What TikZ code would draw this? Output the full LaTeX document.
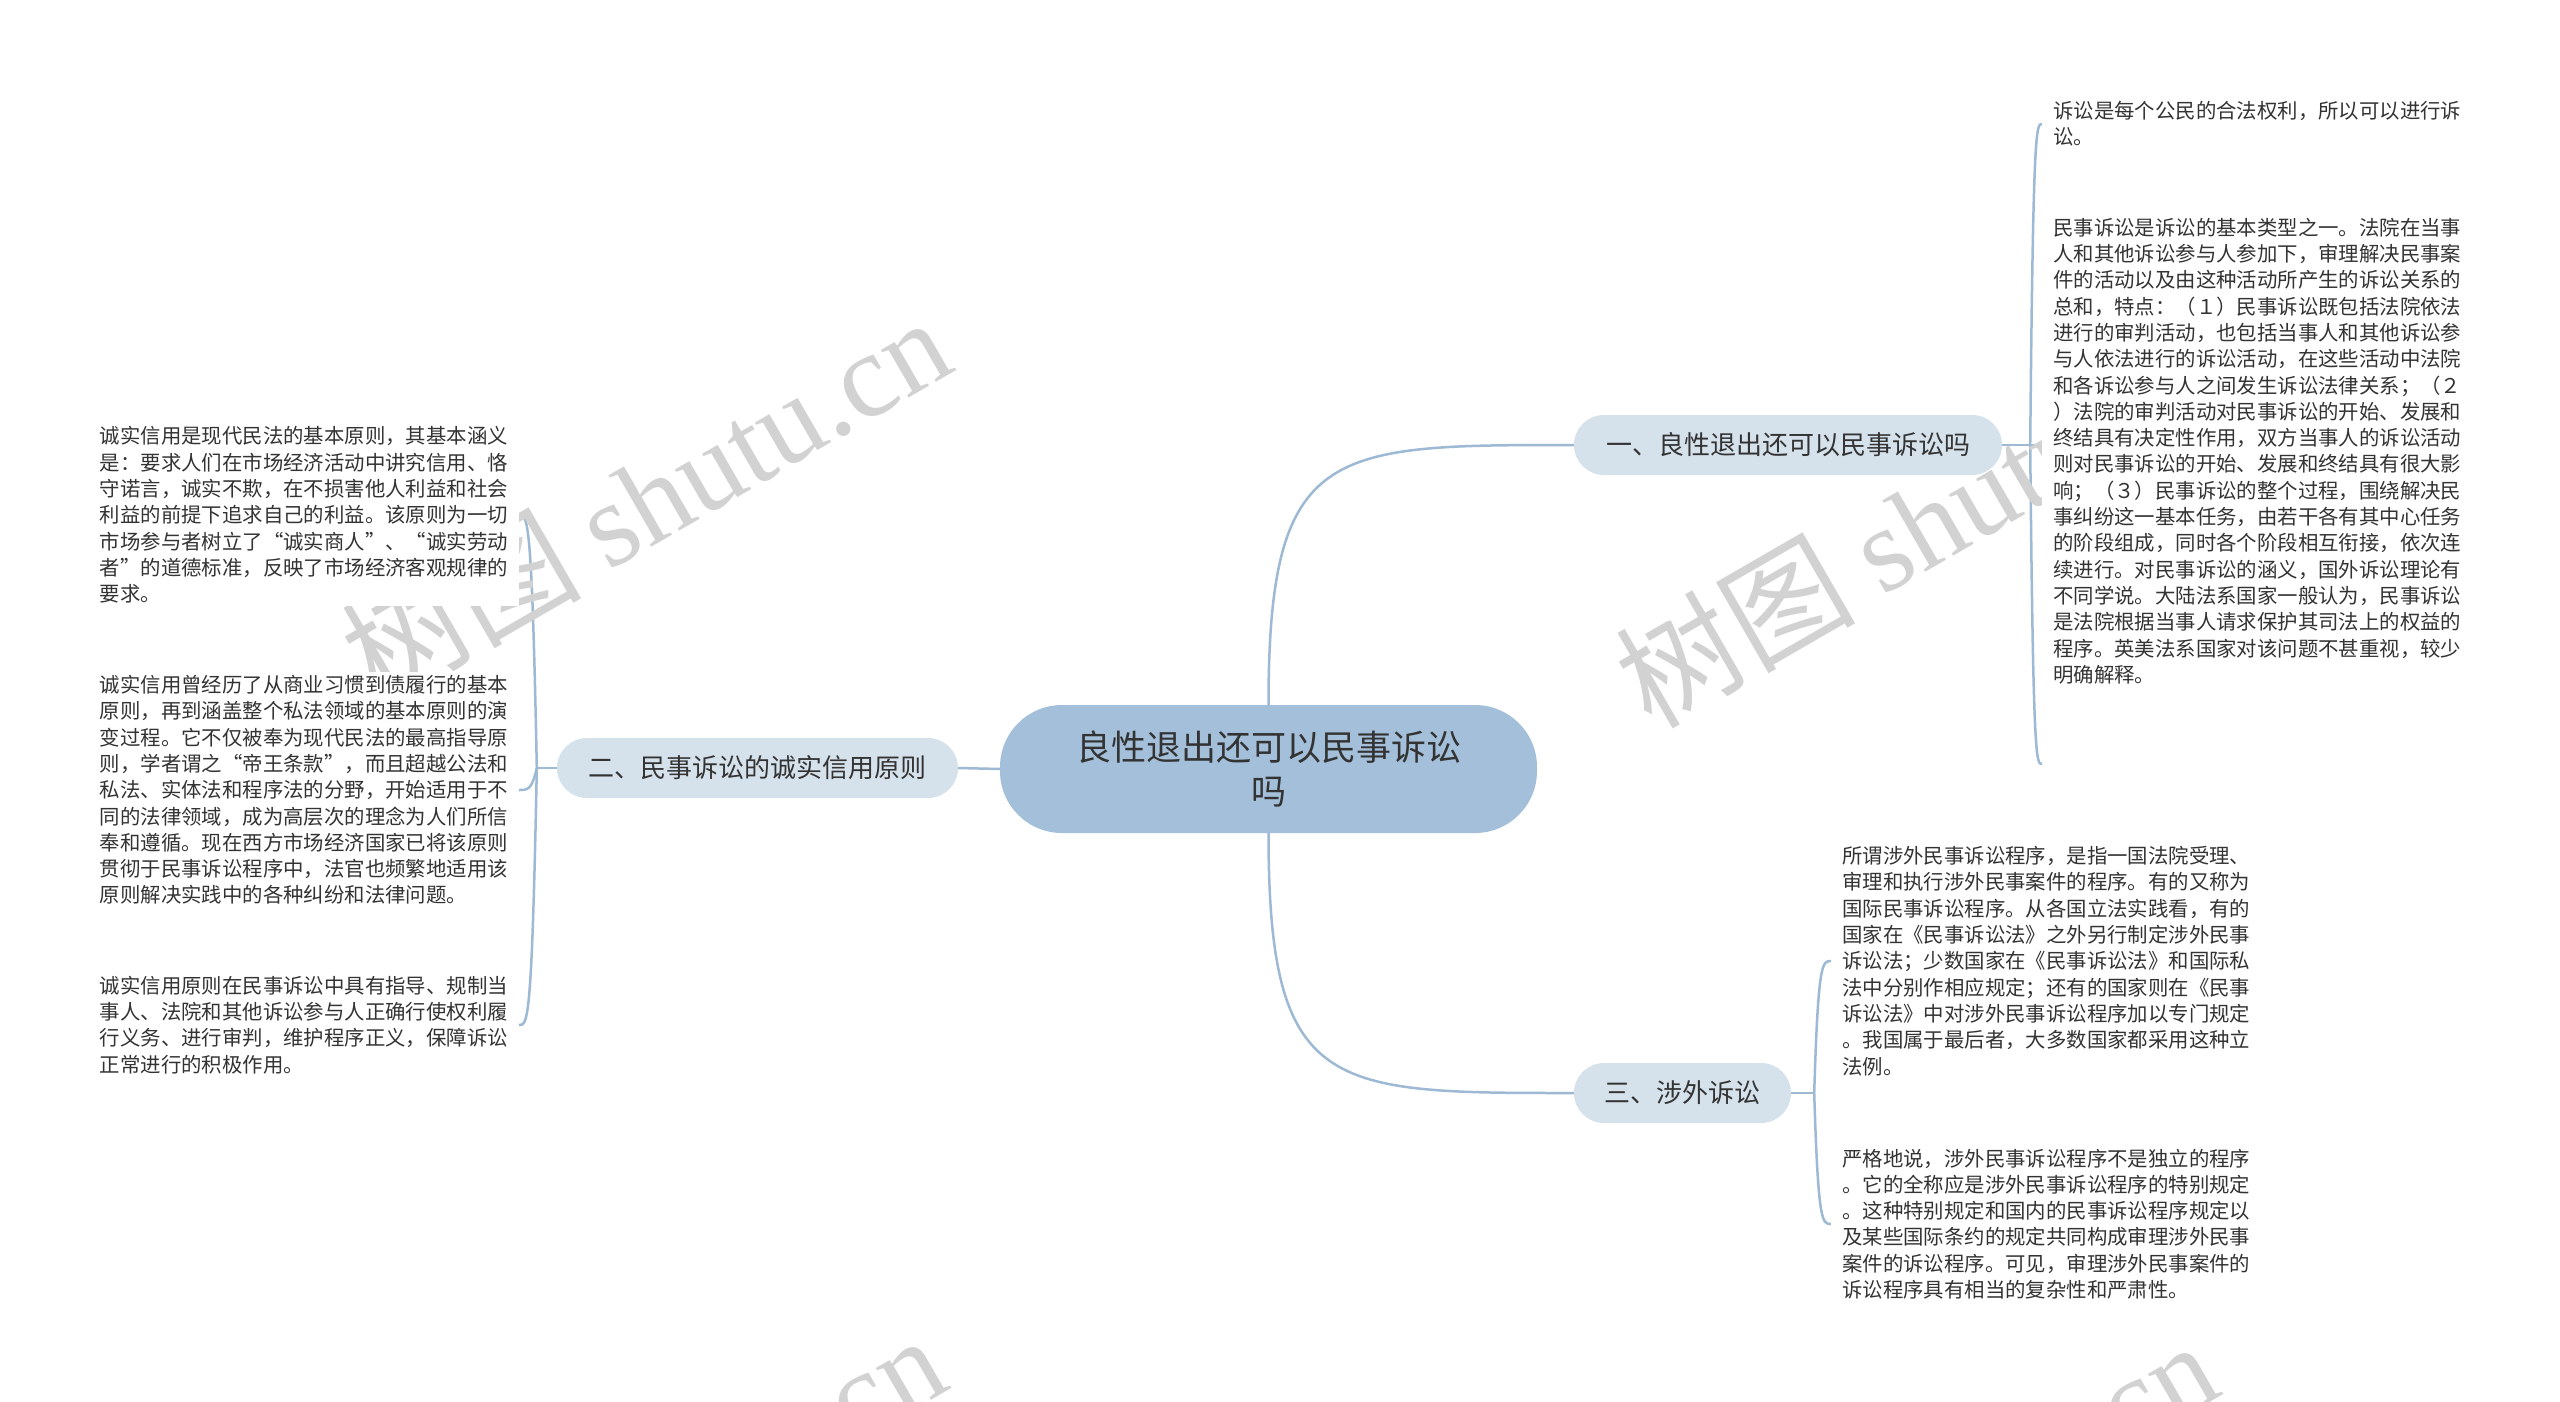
\documentclass[tikz,border=0pt]{standalone}
\usepackage{fontspec}
\setmainfont{Noto Sans CJK SC}
\newfontfamily\wmserif{Liberation Serif}
\usetikzlibrary{calc}
\pgfdeclarelayer{wm}
\pgfdeclarelayer{front}
\pgfsetlayers{main,wm,front}
\definecolor{rootfill}{HTML}{A3BFD9}
\definecolor{subfill}{HTML}{D5E1EB}
\definecolor{linec}{HTML}{9DB9D4}
\definecolor{txt}{HTML}{333333}
\definecolor{wmc}{HTML}{D2D2D2}
\tikzset{
  rootbox/.style={fill=rootfill, rounded corners=62pt, minimum width=537pt, minimum height=128pt, align=center, text=txt, font=\fontsize{35}{44}\selectfont, inner sep=0pt},
  subbox/.style={fill=subfill, rounded corners=30pt, minimum height=60pt, inner xsep=20pt, inner ysep=0pt, text=txt, font=\fontsize{26}{32}\selectfont},
  leaf/.style={fill=white, align=left, inner xsep=11pt, inner ysep=3pt, text=txt, font=\fontsize{20.4}{26.3}\selectfont},
  conn/.style={draw=linec, line width=2.5pt},
  wmark/.style={text=wmc, rotate=30, font=\fontsize{120}{120}\selectfont, inner sep=0pt}
}
\begin{document}
\begin{tikzpicture}[x=1pt,y=-1pt]
\fill[white] (0,0) rectangle (2560,1401);
\path[use as bounding box] (0,0) rectangle (2560,1401);

% main nodes
\node[rootbox] (root) at (1268.5,769) {良性退出还可以民事诉讼\\吗};
\node[subbox, minimum width=428pt] (b1) at (1788,445) {一、良性退出还可以民事诉讼吗};
\node[subbox, minimum width=401pt] (b2) at (757.5,768) {二、民事诉讼的诚实信用原则};
\node[subbox, minimum width=217pt] (b3) at (1682.5,1093) {三、涉外诉讼};

% leaf texts
\begin{pgfonlayer}{front}
\node[leaf, anchor=east] (l1) at (519,515) {诚实信用是现代民法的基本原则，其基本涵义\\是：要求人们在市场经济活动中讲究信用、恪\\守诺言，诚实不欺，在不损害他人利益和社会\\利益的前提下追求自己的利益。该原则为一切\\市场参与者树立了“诚实商人”、“诚实劳动\\者”的道德标准，反映了市场经济客观规律的\\要求。};
\node[leaf, anchor=east] (l2) at (519,790) {诚实信用曾经历了从商业习惯到债履行的基本\\原则，再到涵盖整个私法领域的基本原则的演\\变过程。它不仅被奉为现代民法的最高指导原\\则，学者谓之“帝王条款”，而且超越公法和\\私法、实体法和程序法的分野，开始适用于不\\同的法律领域，成为高层次的理念为人们所信\\奉和遵循。现在西方市场经济国家已将该原则\\贯彻于民事诉讼程序中，法官也频繁地适用该\\原则解决实践中的各种纠纷和法律问题。};
\node[leaf, anchor=east] (l3) at (519,1025) {诚实信用原则在民事诉讼中具有指导、规制当\\事人、法院和其他诉讼参与人正确行使权利履\\行义务、进行审判，维护程序正义，保障诉讼\\正常进行的积极作用。};
\node[leaf, anchor=west] (r1) at (2042,124) {诉讼是每个公民的合法权利，所以可以进行诉\\讼。};
\node[leaf, anchor=west] (r2) at (2042,451) {民事诉讼是诉讼的基本类型之一。法院在当事\\人和其他诉讼参与人参加下，审理解决民事案\\件的活动以及由这种活动所产生的诉讼关系的\\总和，特点：（１）民事诉讼既包括法院依法\\进行的审判活动，也包括当事人和其他诉讼参\\与人依法进行的诉讼活动，在这些活动中法院\\和各诉讼参与人之间发生诉讼法律关系；（２\\）法院的审判活动对民事诉讼的开始、发展和\\终结具有决定性作用，双方当事人的诉讼活动\\则对民事诉讼的开始、发展和终结具有很大影\\响；（３）民事诉讼的整个过程，围绕解决民\\事纠纷这一基本任务，由若干各有其中心任务\\的阶段组成，同时各个阶段相互衔接，依次连\\续进行。对民事诉讼的涵义，国外诉讼理论有\\不同学说。大陆法系国家一般认为，民事诉讼\\是法院根据当事人请求保护其司法上的权益的\\程序。英美法系国家对该问题不甚重视，较少\\明确解释。};
\node[leaf, anchor=west] (s1) at (1831,961) {所谓涉外民事诉讼程序，是指一国法院受理、\\审理和执行涉外民事案件的程序。有的又称为\\国际民事诉讼程序。从各国立法实践看，有的\\国家在《民事诉讼法》之外另行制定涉外民事\\诉讼法；少数国家在《民事诉讼法》和国际私\\法中分别作相应规定；还有的国家则在《民事\\诉讼法》中对涉外民事诉讼程序加以专门规定\\。我国属于最后者，大多数国家都采用这种立\\法例。};
\node[leaf, anchor=west] (s2) at (1831,1224) {严格地说，涉外民事诉讼程序不是独立的程序\\。它的全称应是涉外民事诉讼程序的特别规定\\。这种特别规定和国内的民事诉讼程序规定以\\及某些国际条约的规定共同构成审理涉外民事\\案件的诉讼程序。可见，审理涉外民事案件的\\诉讼程序具有相当的复杂性和严肃性。};
\end{pgfonlayer}

% junctions
\coordinate (jL) at ($(b2.west)+(-20,0)$);
\coordinate (jR) at ($(b1.east)+(28,0)$);
\coordinate (jS) at ($(b3.east)+(23,0)$);
\coordinate (rEnd) at (2042,764);

% connectors: root to branches
\draw[conn] (root.north) .. controls (root.north |- b1.west) and ($(root.north |- b1.west)+(60,0)$) .. (b1.west);
\draw[conn] (root.south) .. controls (root.south |- b3.west) and ($(root.south |- b3.west)+(60,0)$) .. (b3.west);
\draw[conn] (root.west) -- (b2.east);

% left bracket
\draw[conn] (b2.west) -- (jL);
\draw[conn] (jL) .. controls ($(jL |- l1.east)+(-5,0)$) and ($(jL |- l1.east)+(-9,0)$) .. (l1.east);
\draw[conn] (jL) .. controls ($(jL |- l2.east)+(-5,0)$) and ($(jL |- l2.east)+(-9,0)$) .. (l2.east);
\draw[conn] (jL) .. controls ($(jL |- l3.east)+(-5,0)$) and ($(jL |- l3.east)+(-9,0)$) .. (l3.east);

% right top bracket
\draw[conn] (b1.east) -- (jR);
\draw[conn] (jR) .. controls ($(jR |- r1.west)+(3,0)$) and ($(jR |- r1.west)+(6,0)$) .. (r1.west);
\draw[conn] (jR) -- (r2.west |- jR);
\draw[conn] (jR) .. controls ($(jR |- rEnd)+(3,0)$) and ($(jR |- rEnd)+(6,0)$) .. (rEnd);

% right bottom bracket
\draw[conn] (b3.east) -- (jS);
\draw[conn] (jS) .. controls ($(jS |- s1.west)+(4,0)$) and ($(jS |- s1.west)+(8,0)$) .. (s1.west);
\draw[conn] (jS) .. controls ($(jS |- s2.west)+(4,0)$) and ($(jS |- s2.west)+(8,0)$) .. (s2.west);

% watermarks
\begin{pgfonlayer}{wm}
\begin{scope}
\clip (0,0) rectangle (2560,1401);
\node[wmark] (wm1) at (645,498) {树图 {\wmserif shutu.cn}};
\node[wmark] (wm2) at (1919,523) {树图 {\wmserif shutu.cn}};
\node[wmark] (wm3) at (640,1516) {树图 {\wmserif shutu.cn}};
\node[wmark] (wm4) at (1912,1522) {树图 {\wmserif shutu.cn}};
\end{scope}
\end{pgfonlayer}
\end{tikzpicture}
\end{document}
